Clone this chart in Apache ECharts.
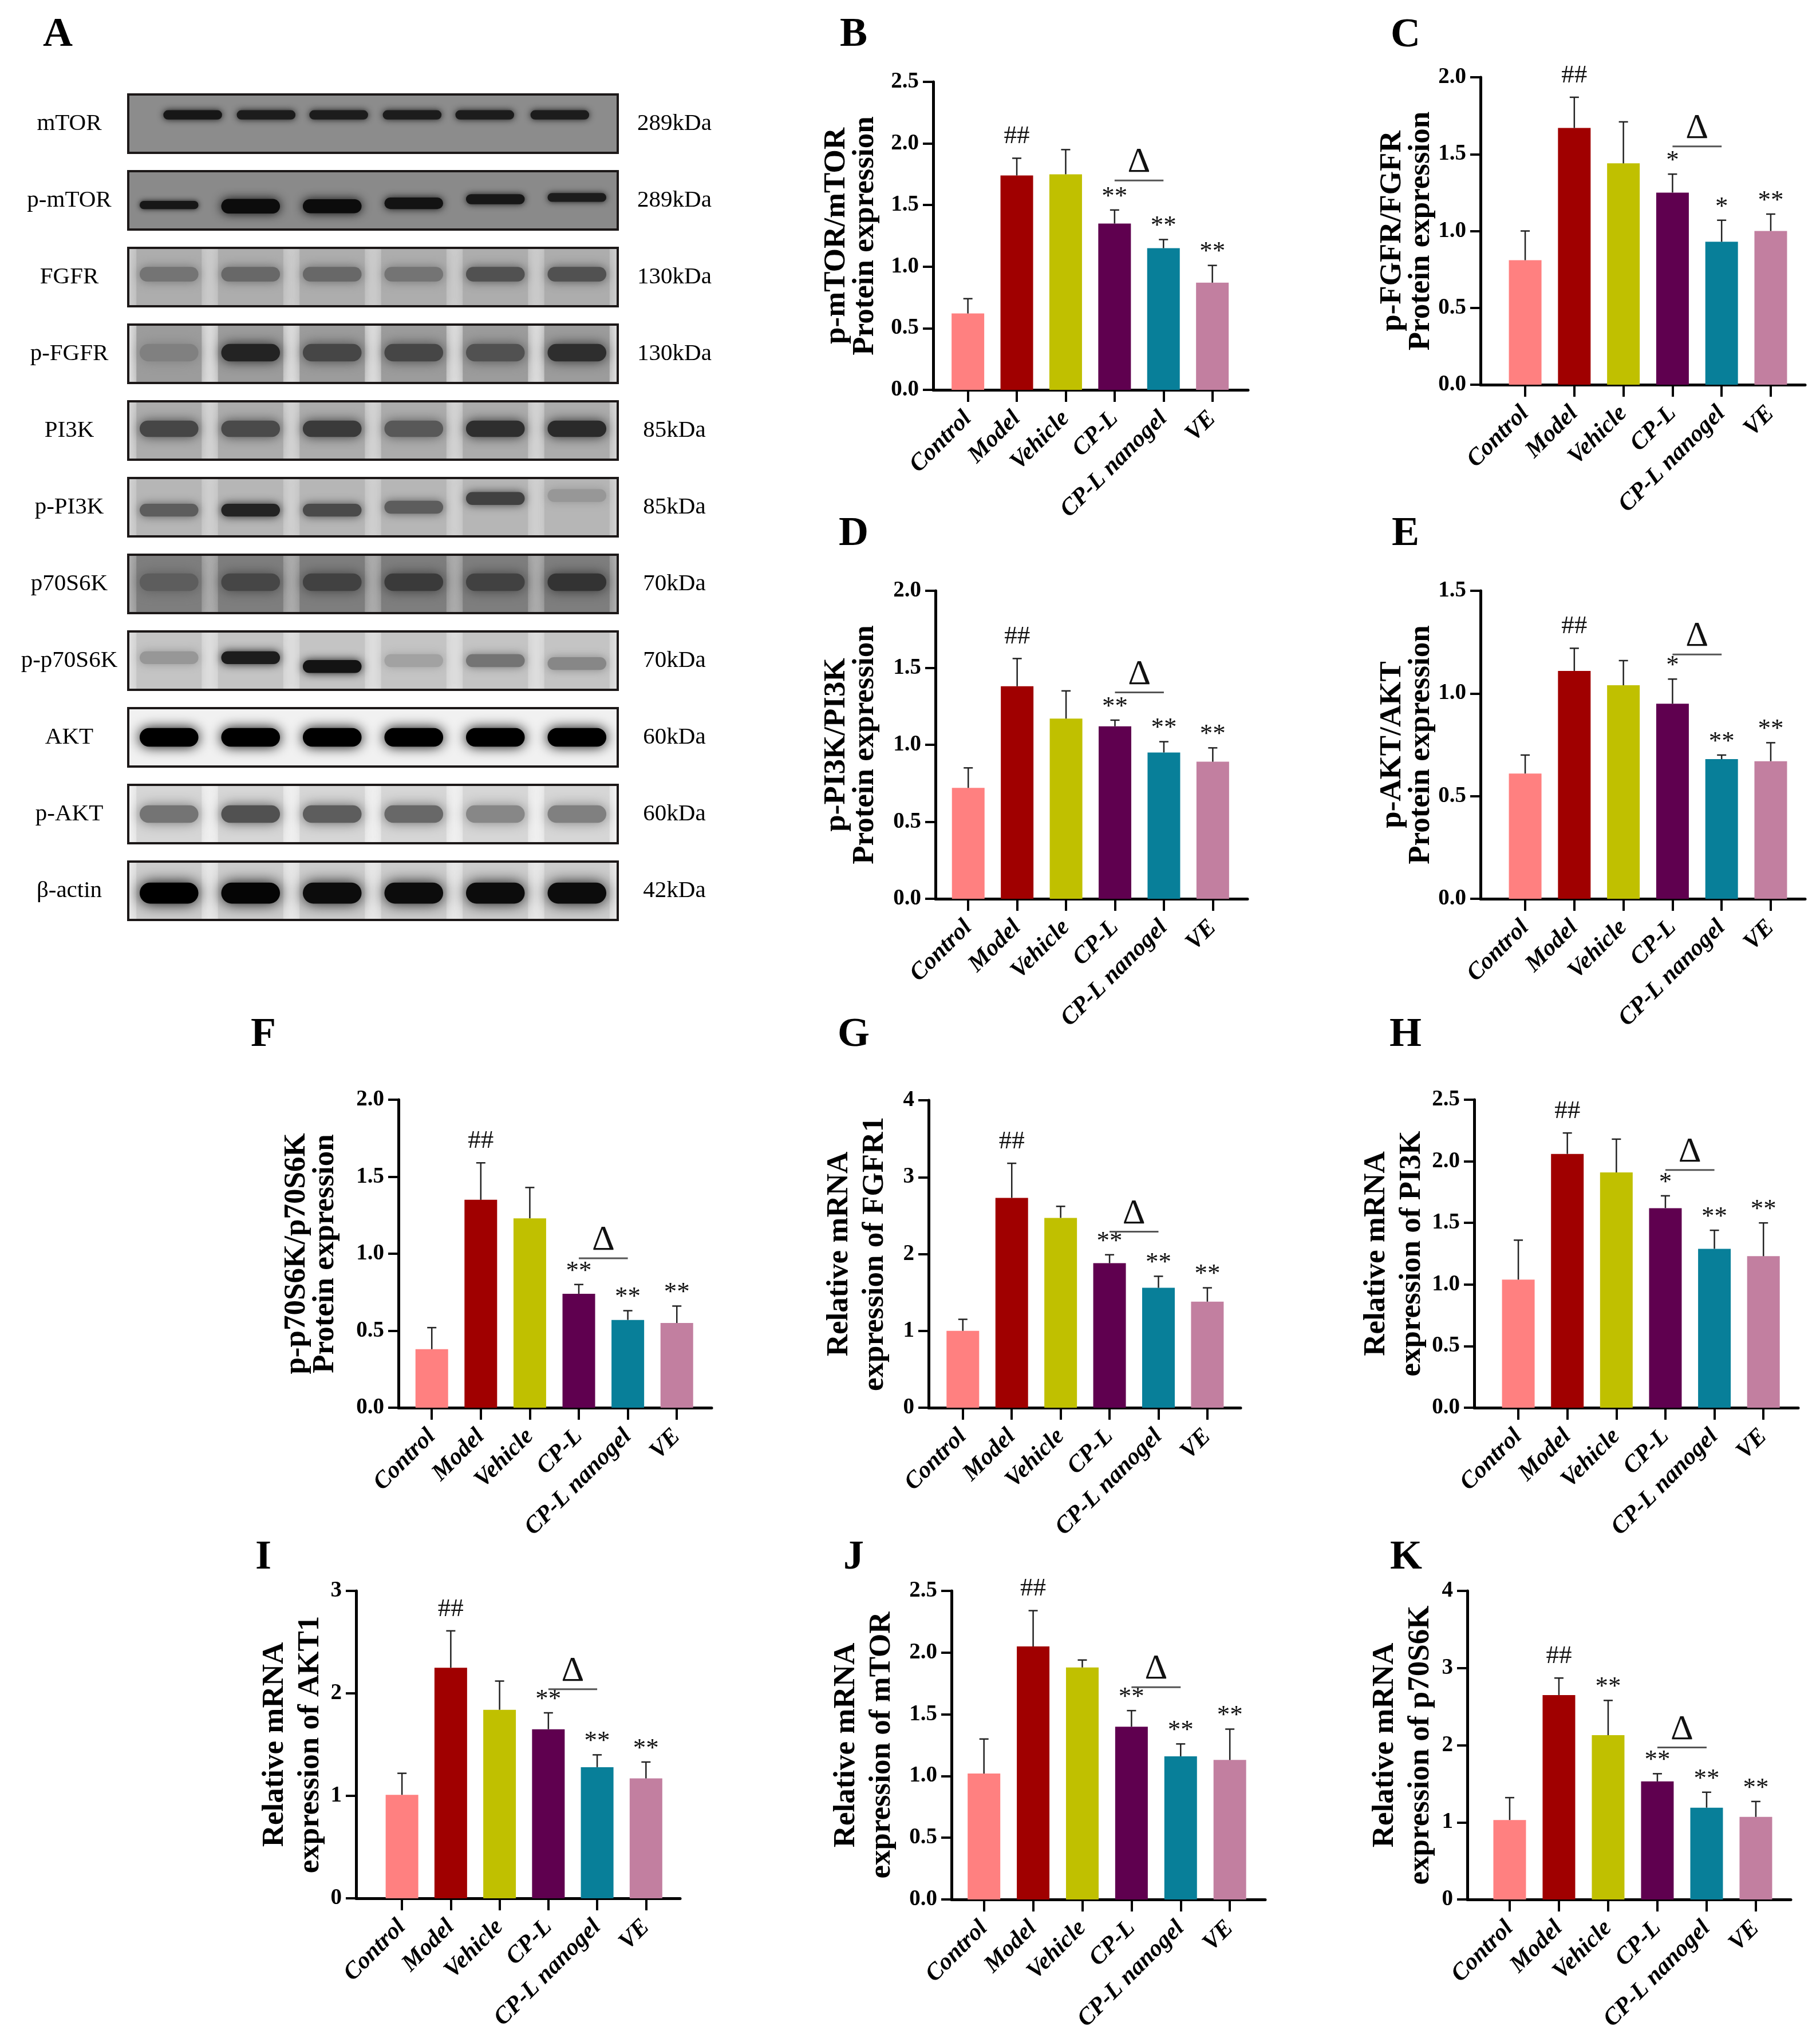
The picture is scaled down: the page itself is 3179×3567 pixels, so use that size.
<!DOCTYPE html>
<html>
<head>
<meta charset="utf-8">
<script src="https://cdn.jsdelivr.net/npm/echarts@6/dist/echarts.min.js"></script>
<style>
  html, body { margin: 0; padding: 0; background: #fff; }
  #chart { width: 3179px; height: 3567px; }
</style>
</head>
<body>
<div id="chart"></div>
<script>
const FONT = '"Liberation Serif", "Times New Roman", serif';

// groups and colours shared by all bar panels
const groups = ['Control', 'Model', 'Vehicle', 'CP-L', 'CP-L nanogel', 'VE'];
const barColors = ['#FF8080', '#A00000', '#C0C000', '#5F004F', '#087F99', '#C27FA0'];

// B: p-mTOR/mTOR
const meanB = [0.62, 1.74, 1.75, 1.35, 1.15, 0.87];
const upperB = [0.74, 1.88, 1.95, 1.46, 1.22, 1.01];
const sigB = ['', '##', '', '**', '**', '**'];
const deltaB = 1.70;
// C: p-FGFR/FGFR
const meanC = [0.81, 1.67, 1.44, 1.25, 0.93, 1.00];
const upperC = [1.00, 1.87, 1.71, 1.37, 1.07, 1.11];
const sigC = ['', '##', '', '*', '*', '**'];
const deltaC = 1.55;
// D: p-PI3K/PI3K
const meanD = [0.72, 1.38, 1.17, 1.12, 0.95, 0.89];
const upperD = [0.85, 1.56, 1.35, 1.16, 1.02, 0.98];
const sigD = ['', '##', '', '**', '**', '**'];
const deltaD = 1.34;
// E: p-AKT/AKT
const meanE = [0.61, 1.11, 1.04, 0.95, 0.68, 0.67];
const upperE = [0.70, 1.22, 1.16, 1.07, 0.70, 0.76];
const sigE = ['', '##', '', '*', '**', '**'];
const deltaE = 1.19;
// F: p-p70S6K/p70S6K
const meanF = [0.38, 1.35, 1.23, 0.74, 0.57, 0.55];
const upperF = [0.52, 1.59, 1.43, 0.80, 0.63, 0.66];
const sigF = ['', '##', '', '**', '**', '**'];
const deltaF = 0.97;
// G: FGFR1 mRNA
const meanG = [1.00, 2.73, 2.47, 1.88, 1.56, 1.38];
const upperG = [1.15, 3.18, 2.62, 1.99, 1.71, 1.56];
const sigG = ['', '##', '', '**', '**', '**'];
const deltaG = 2.29;
// H: PI3K mRNA
const meanH = [1.04, 2.06, 1.91, 1.62, 1.29, 1.23];
const upperH = [1.36, 2.23, 2.18, 1.72, 1.44, 1.50];
const sigH = ['', '##', '', '*', '**', '**'];
const deltaH = 1.93;
// I: AKT1 mRNA
const meanI = [1.01, 2.25, 1.84, 1.65, 1.28, 1.17];
const upperI = [1.22, 2.61, 2.12, 1.81, 1.40, 1.33];
const sigI = ['', '##', '', '**', '**', '**'];
const deltaI = 2.04;
// J: mTOR mRNA
const meanJ = [1.02, 2.05, 1.88, 1.40, 1.16, 1.13];
const upperJ = [1.30, 2.34, 1.94, 1.53, 1.26, 1.38];
const sigJ = ['', '##', '', '**', '**', '**'];
const deltaJ = 1.72;
// K: p70S6K mRNA
const meanK = [1.03, 2.65, 2.13, 1.53, 1.19, 1.07];
const upperK = [1.32, 2.87, 2.58, 1.63, 1.39, 1.27];
const sigK = ['', '##', '**', '**', '**', '**'];
const deltaK = 1.97;

// y axis ranges [max, step]
const yAxisB = [2.5, 0.5];
const yAxisC = [2.0, 0.5];
const yAxisD = [2.0, 0.5];
const yAxisE = [1.5, 0.5];
const yAxisF = [2.0, 0.5];
const yAxisG = [4, 1];
const yAxisH = [2.5, 0.5];
const yAxisI = [3, 1];
const yAxisJ = [2.5, 0.5];
const yAxisK = [4, 1];

const titleB = 'p-mTOR/mTOR\nProtein expression';
const titleC = 'p-FGFR/FGFR\nProtein expression';
const titleD = 'p-PI3K/PI3K\nProtein expression';
const titleE = 'p-AKT/AKT\nProtein expression';
const titleF = 'p-p70S6K/p70S6K\nProtein expression';
const titleG = 'Relative mRNA\nexpression of FGFR1';
const titleH = 'Relative mRNA\nexpression of PI3K';
const titleI = 'Relative mRNA\nexpression of AKT1';
const titleJ = 'Relative mRNA\nexpression of mTOR';
const titleK = 'Relative mRNA\nexpression of p70S6K';

// western blot (panel A)
const blotRows = ['mTOR', 'p-mTOR', 'FGFR', 'p-FGFR', 'PI3K', 'p-PI3K', 'p70S6K', 'p-p70S6K', 'AKT', 'p-AKT', 'β-actin'];
const blotKDa = ['289kDa', '289kDa', '130kDa', '130kDa', '85kDa', '85kDa', '70kDa', '70kDa', '60kDa', '60kDa', '42kDa'];
const bandDark = [
  [0.90, 0.88, 0.88, 0.88, 0.88, 0.88],
  [0.90, 0.95, 0.95, 0.92, 0.90, 0.88],
  [0.50, 0.55, 0.55, 0.50, 0.65, 0.65],
  [0.45, 0.85, 0.70, 0.70, 0.65, 0.80],
  [0.70, 0.68, 0.75, 0.62, 0.80, 0.82],
  [0.60, 0.85, 0.68, 0.60, 0.72, 0.35],
  [0.60, 0.70, 0.72, 0.75, 0.72, 0.78],
  [0.35, 0.88, 0.92, 0.30, 0.50, 0.42],
  [1.00, 1.00, 1.00, 1.00, 1.00, 1.00],
  [0.50, 0.65, 0.60, 0.55, 0.42, 0.45],
  [1.00, 0.98, 0.95, 0.95, 0.95, 0.95]
];
const laneCenters = [0.5, 1.5, 2.5, 3.5, 4.5, 5.5];
const mtorLanes = [0.79, 1.69, 2.58, 3.48, 4.37, 5.29];

// blot look (style only)
const stripBg = ['#8c8c8c', '#8a8a8a', '#d0d0d0', '#e6e6e6', '#dadada', '#d4d4d4', '#b4b4b4', '#e2e2e2', '#f1f1f1', '#f4f4f4', '#ebebeb'];
const laneShade = [null, null, '#adadad', '#9c9c9c', '#acacac', '#b6b6b6', '#7e7e7e', '#c4c4c4', null, '#d6d6d6', '#cdcdcd'];
const bandThick = [0.16, [0.14, 0.25, 0.24, 0.2, 0.17, 0.15], 0.25, 0.3, 0.28, 0.22, 0.3, 0.22, 0.32, 0.3, 0.36];
const bandPos = [0.35, [0.58, 0.6, 0.6, 0.55, 0.48, 0.45], 0.45, 0.48, 0.47, [0.55, 0.55, 0.55, 0.5, 0.35, 0.3], 0.47, [0.45, 0.45, 0.6, 0.5, 0.5, 0.55], 0.5, 0.5, 0.54];
const STRIP_H = 102;

const panelData = {
  B: { mean: meanB, upper: upperB, sig: sigB, delta: deltaB, y: yAxisB, title: titleB },
  C: { mean: meanC, upper: upperC, sig: sigC, delta: deltaC, y: yAxisC, title: titleC },
  D: { mean: meanD, upper: upperD, sig: sigD, delta: deltaD, y: yAxisD, title: titleD },
  E: { mean: meanE, upper: upperE, sig: sigE, delta: deltaE, y: yAxisE, title: titleE },
  F: { mean: meanF, upper: upperF, sig: sigF, delta: deltaF, y: yAxisF, title: titleF },
  G: { mean: meanG, upper: upperG, sig: sigG, delta: deltaG, y: yAxisG, title: titleG },
  H: { mean: meanH, upper: upperH, sig: sigH, delta: deltaH, y: yAxisH, title: titleH },
  I: { mean: meanI, upper: upperI, sig: sigI, delta: deltaI, y: yAxisI, title: titleI },
  J: { mean: meanJ, upper: upperJ, sig: sigJ, delta: deltaJ, y: yAxisJ, title: titleJ },
  K: { mean: meanK, upper: upperK, sig: sigK, delta: deltaK, y: yAxisK, title: titleK }
};

// panel geometry in page pixels
const layout = [
  { id: 'B', left: 1630, top: 143, right: 2180, bottom: 681, padL: 0.71, padR: 0.73, gap: 144 },
  { id: 'C', left: 2586, top: 135, right: 3153, bottom: 672, padL: 0.91, padR: 0.70, gap: 129 },
  { id: 'D', left: 1634, top: 1032, right: 2179, bottom: 1570, padL: 0.67, padR: 0.71, gap: 148 },
  { id: 'E', left: 2586, top: 1032, right: 3153, bottom: 1570, padL: 0.91, padR: 0.70, gap: 129 },
  { id: 'F', left: 696, top: 1921, right: 1243, bottom: 2459, padL: 0.68, padR: 0.71, gap: 153 },
  { id: 'G', left: 1622, top: 1922, right: 2167, bottom: 2459, padL: 0.70, padR: 0.68, gap: 125 },
  { id: 'H', left: 2575, top: 1921, right: 3141, bottom: 2459, padL: 0.90, padR: 0.71, gap: 135 },
  { id: 'I', left: 622, top: 2779, right: 1188, bottom: 3316, padL: 0.94, padR: 0.70, gap: 106 },
  { id: 'J', left: 1662, top: 2779, right: 2210, bottom: 3318, padL: 0.66, padR: 0.72, gap: 153 },
  { id: 'K', left: 2563, top: 2779, right: 3128, bottom: 3318, padL: 0.86, padR: 0.71, gap: 113 }
];

const letters = [
  ['A', 101, 61], ['B', 1491, 61], ['C', 2455, 62],
  ['D', 1491, 933], ['E', 2455, 933],
  ['F', 460, 1808], ['G', 1491, 1808], ['H', 2455, 1808],
  ['I', 460, 2721], ['J', 1491, 2721], ['K', 2456, 2721]
];

const pick = (v, k) => (Array.isArray(v) ? v[k] : v);
const textStyle = (text, x, y, font, fill) => ({
  text, x, y, font, fill,
  align: 'center', verticalAlign: 'middle',
  textAlign: 'center', textVerticalAlign: 'middle'
});

const grids = [];
const xAxes = [];
const yAxes = [];
const series = [];

layout.forEach((p, gi) => {
  const d = panelData[p.id];
  const [yMax, step] = d.y;
  grids.push({
    left: p.left, top: p.top, width: p.right - p.left, height: p.bottom - p.top,
    containLabel: false, outerBoundsMode: 'none'
  });
  xAxes.push({
    gridIndex: gi,
    type: 'value',
    min: -p.padL,
    max: 5 + p.padR,
    splitLine: { show: false },
    axisLine: { show: true, onZero: false, lineStyle: { color: '#000', width: 5 } },
    axisTick: { show: true, customValues: [0, 1, 2, 3, 4, 5], length: 21, lineStyle: { color: '#000', width: 4 } },
    axisLabel: {
      customValues: [0, 1, 2, 3, 4, 5],
      formatter: (v) => groups[Math.round(v)],
      rotate: 45,
      margin: 44,
      color: '#000',
      fontFamily: FONT,
      fontWeight: 'bold',
      fontStyle: 'italic',
      fontSize: 42
    }
  });
  yAxes.push({
    gridIndex: gi,
    type: 'value',
    min: 0,
    max: yMax,
    interval: step,
    splitLine: { show: false },
    axisLine: { show: true, onZero: false, lineStyle: { color: '#000', width: 5 } },
    axisTick: { show: true, length: 18, lineStyle: { color: '#000', width: 4 } },
    axisLabel: {
      margin: 25,
      color: '#000',
      fontFamily: FONT,
      fontWeight: 'bold',
      fontSize: 39,
      formatter: (v) => v.toFixed(step < 1 ? 1 : 0)
    },
    name: d.title,
    nameLocation: 'middle',
    nameGap: p.gap,
    nameTextStyle: {
      color: '#000',
      fontFamily: FONT,
      fontWeight: 'bold',
      fontSize: 53,
      lineHeight: d.title.startsWith('Relative') ? 62 : 50,
      align: 'center',
      verticalAlign: 'middle'
    }
  });

  series.push({
    type: 'bar',
    xAxisIndex: gi,
    yAxisIndex: gi,
    barWidth: 57,
    data: d.mean.map((v, i) => ({ value: [i, v], itemStyle: { color: barColors[i] } })),
    z: 2
  });

  series.push({
    type: 'custom',
    xAxisIndex: gi,
    yAxisIndex: gi,
    z: 3,
    data: d.mean.map((v, i) => [i, v, d.upper[i]]),
    renderItem: (params, api) => {
      const i = api.value(0);
      const base = api.coord([i, api.value(1)]);
      const tip = api.coord([i, api.value(2)]);
      const mark = d.sig[i];
      const kids = [
        { type: 'line', shape: { x1: base[0], y1: base[1], x2: tip[0], y2: tip[1] }, style: { stroke: '#222', lineWidth: 2.5 } },
        { type: 'line', shape: { x1: tip[0] - 8, y1: tip[1], x2: tip[0] + 8, y2: tip[1] }, style: { stroke: '#222', lineWidth: 2.5 } }
      ];
      if (mark) {
        const lift = mark[0] === '#' ? 38 : 23;
        kids.push({ type: 'text', style: textStyle(mark, tip[0], tip[1] - lift, '45px ' + FONT, '#111') });
      }
      return { type: 'group', children: kids };
    }
  });

  series.push({
    type: 'custom',
    xAxisIndex: gi,
    yAxisIndex: gi,
    z: 3,
    data: [[3, 4, d.delta]],
    renderItem: (params, api) => {
      const a = api.coord([api.value(0), api.value(2)]);
      const b = api.coord([api.value(1), api.value(2)]);
      return {
        type: 'group',
        children: [
          { type: 'line', shape: { x1: a[0], y1: a[1], x2: b[0], y2: b[1] }, style: { stroke: '#555', lineWidth: 3 } },
          { type: 'text', style: textStyle('Δ', (a[0] + b[0]) / 2, a[1] - 31, '62px ' + FONT, '#111') }
        ]
      };
    }
  });
});

// blot grid
const bi = layout.length;
grids.push({ left: 224, top: 165, width: 855, height: 1474, containLabel: false, outerBoundsMode: 'none' });
xAxes.push({ gridIndex: bi, type: 'value', min: 0, max: 6, show: false });
yAxes.push({ gridIndex: bi, type: 'category', data: blotRows, inverse: true, show: false });

series.push({
  type: 'custom',
  xAxisIndex: bi,
  yAxisIndex: bi,
  data: blotRows.map((_, r) => [0, r]),
  renderItem: (params, api) => {
    const r = api.value(1);
    const start = api.coord([0, r]);
    const end = api.coord([6, r]);
    const rowH = api.size([0, 1])[1];
    const x0 = start[0];
    const w = end[0] - x0;
    const top = start[1] - rowH / 2;
    const h = STRIP_H;
    const lanePx = w / 6;
    const lanes = r === 0 ? mtorLanes : laneCenters;
    const inner = [{ type: 'rect', shape: { x: x0, y: top, width: w, height: h }, style: { fill: stripBg[r] } }];
    lanes.forEach((lx) => {
      const cx = api.coord([lx, r])[0];
      if (laneShade[r]) {
        inner.push({
          type: 'rect',
          shape: { x: cx - lanePx * 0.4, y: top - 10, width: lanePx * 0.8, height: h + 20, r: 10 },
          style: { fill: laneShade[r], shadowBlur: 22, shadowColor: laneShade[r] }
        });
      }
    });
    lanes.forEach((lx, k) => {
      const cx = api.coord([lx, r])[0];
      const g = Math.round(232 * (1 - bandDark[r][k]));
      const col = `rgb(${g},${g},${g})`;
      const bh = h * pick(bandThick[r], k);
      const by = top + h * pick(bandPos[r], k);
      const bw = lanePx * 0.72;
      inner.push({
        type: 'rect',
        shape: { x: cx - bw / 2, y: by - bh / 2, width: bw, height: bh, r: bh / 2 },
        style: { fill: col, shadowBlur: bh * 0.7, shadowColor: col }
      });
    });
    return {
      type: 'group',
      children: [
        {
          type: 'group',
          clipPath: { type: 'rect', shape: { x: x0, y: top, width: w, height: h } },
          children: inner
        },
        { type: 'rect', shape: { x: x0, y: top, width: w, height: h }, style: { fill: 'none', stroke: '#1c1818', lineWidth: 4 } },
        { type: 'text', style: textStyle(blotRows[r], x0 - 103, top + h / 2, '41px ' + FONT, '#000') },
        { type: 'text', style: textStyle(blotKDa[r], end[0] + 99, top + h / 2, '41px ' + FONT, '#000') }
      ]
    };
  }
});

const chart = echarts.init(document.getElementById('chart'), null, { renderer: 'canvas' });
chart.setOption({
  backgroundColor: '#fff',
  animation: false,
  grid: grids,
  xAxis: xAxes,
  yAxis: yAxes,
  series,
  graphic: letters.map(([t, x, y]) => ({
    type: 'text',
    style: textStyle(t, x, y, 'bold 72px ' + FONT, '#000')
  }))
});
</script>
</body>
</html>
